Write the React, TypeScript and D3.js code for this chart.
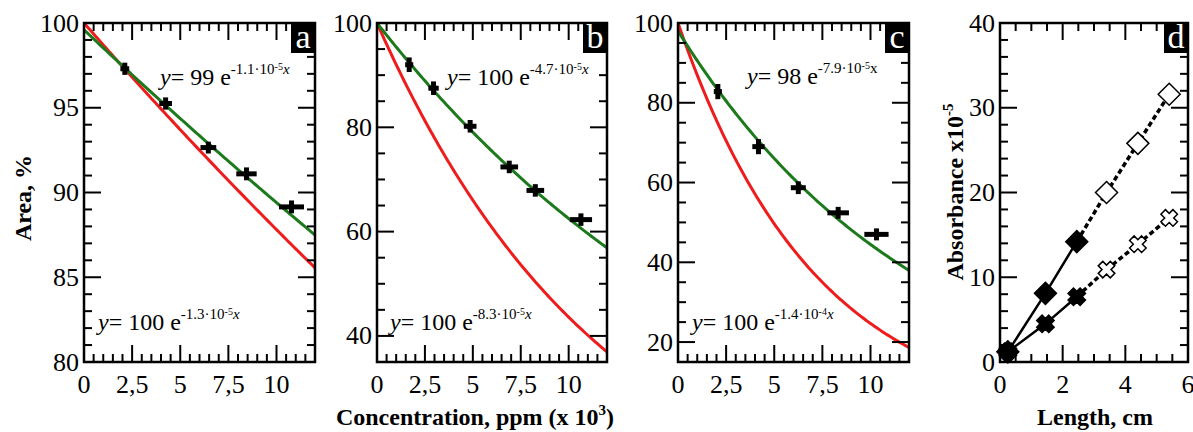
import React from "react";
import * as d3 from "d3";

// ---------- DATA ----------
// Panel a
const concA = [2.12, 4.24, 6.46, 8.44, 10.78];
const areaA = [97.3, 95.25, 92.65, 91.1, 89.15];
const xErrA = [0.1, 0.2, 0.28, 0.4, 0.52];
const yErrA = [0.36, 0.36, 0.35, 0.38, 0.38];
// Panel b
const concB = [1.68, 2.95, 4.86, 6.9, 8.26, 10.64];
const areaB = [92.0, 87.5, 80.2, 72.4, 67.9, 62.3];
const xErrB = [0.08, 0.14, 0.2, 0.33, 0.33, 0.45];
const yErrB = [1.4, 1.3, 1.2, 1.2, 1.2, 1.2];
// Panel c
const concC = [2.07, 4.18, 6.25, 8.32, 10.31];
const areaC = [82.8, 69.0, 58.7, 52.4, 47.0];
const xErrC = [0.08, 0.19, 0.26, 0.43, 0.5];
const yErrC = [1.9, 1.9, 1.6, 1.5, 1.5];

// Fitted exponentials: y = A * exp(-k * ppm)
const fitGreen = [
  { A: 99.6, k: 1.08e-5 },
  { A: 100, k: 4.7e-5 },
  { A: 98, k: 7.9e-5 },
];
const fitRed = [
  { A: 100, k: 1.3e-5 },
  { A: 100, k: 8.3e-5 },
  { A: 100, k: 1.4e-4 },
];

// Equation labels
const eqTop = [
  { coef: "99", mant: "-1.1·10", pow: "-5", italX: true },
  { coef: "100", mant: "-4.7·10", pow: "-5", italX: true },
  { coef: "98", mant: "-7.9·10", pow: "-5", italX: false },
];
const eqBottom = [
  { coef: "100", mant: "-1.3·10", pow: "-5", italX: true },
  { coef: "100", mant: "-8.3·10", pow: "-5", italX: true },
  { coef: "100", mant: "-1.4·10", pow: "-4", italX: true },
];

// Panel d
const lengthD = [0.25, 1.45, 2.45, 3.4, 4.4, 5.4];
const absDiamond = [1.2, 8.1, 14.2, 20.0, 25.8, 31.6];
const absCross = [1.2, 4.5, 7.7, 10.9, 13.9, 17.0];
const filledCount = 3;

// Tick labels
const concTickLabels = ["0", "2,5", "5", "7,5", "10"];
const concTickValues = [0, 2.5, 5, 7.5, 10];
const yTicksA = [80, 85, 90, 95, 100];
const yTicksB = [40, 60, 80, 100];
const yTicksC = [20, 40, 60, 80, 100];
const yTicksD = [0, 10, 20, 30, 40];
const xTicksD = [0, 2, 4, 6];
const panelLetters = ["a", "b", "c", "d"];

// ---------- LAYOUT ----------
const W = 1193;
const H = 432;
const TOP = 23;
const BOTTOM = 362;
const panels = [
  { x0: 84, x1: 315, ydom: [80, 100], yMinor: 1, yTicks: yTicksA, eqT: [160, 85], eqB: [98, 330] },
  { x0: 377, x1: 607, ydom: [35, 100], yMinor: 5, yTicks: yTicksB, eqT: [447, 85], eqB: [390, 330] },
  { x0: 678, x1: 909, ydom: [15, 100], yMinor: 5, yTicks: yTicksC, eqT: [747, 84], eqB: [692, 330] },
];
const panelD = { x0: 1000, x1: 1188 };

const FONT = "Liberation Serif";
const GREEN = "#1c7a1c";
const RED = "#ee1c1c";
const MAJ = 17;
const MIN = 8;

function Frame({ xs, ys, xMinorVals, xMajorVals, yMinorVals, yMajorVals, xLabels, yLabels, letter }: any) {
  const [x0, x1] = xs.range();
  const [yb, yt] = ys.range();
  const lines: any[] = [];
  xMinorVals.forEach((v: number, i: number) => {
    const x = xs(v);
    lines.push(<line key={"xb" + i} x1={x} x2={x} y1={yb} y2={yb - MIN} />);
    lines.push(<line key={"xt" + i} x1={x} x2={x} y1={yt} y2={yt + MIN} />);
  });
  xMajorVals.forEach((v: number, i: number) => {
    const x = xs(v);
    lines.push(<line key={"XB" + i} x1={x} x2={x} y1={yb} y2={yb - MAJ} />);
    lines.push(<line key={"XT" + i} x1={x} x2={x} y1={yt} y2={yt + MAJ} />);
  });
  yMinorVals.forEach((v: number, i: number) => {
    const y = ys(v);
    lines.push(<line key={"yl" + i} x1={x0} x2={x0 + MIN} y1={y} y2={y} />);
    lines.push(<line key={"yr" + i} x1={x1} x2={x1 - MIN} y1={y} y2={y} />);
  });
  yMajorVals.forEach((v: number, i: number) => {
    const y = ys(v);
    lines.push(<line key={"YL" + i} x1={x0} x2={x0 + MAJ} y1={y} y2={y} />);
    lines.push(<line key={"YR" + i} x1={x1} x2={x1 - MAJ} y1={y} y2={y} />);
  });
  return (
    <g>
      <g stroke="#000" strokeWidth={2}>{lines}</g>
      <rect x={x0} y={yt} width={x1 - x0} height={yb - yt} fill="none" stroke="#000" strokeWidth={2.5} />
      <g style={{ fontFamily: FONT }} fontSize={26} fill="#000">
        {xLabels.map((l: any, i: number) => (
          <text key={"xl" + i} x={xs(l.v)} y={yb + 31} textAnchor="middle">{l.t}</text>
        ))}
        {yLabels.map((l: any, i: number) => (
          <text key={"yl" + i} x={x0 - 5} y={ys(l.v) + 8.5} textAnchor="end">{l.t}</text>
        ))}
      </g>
      <rect x={x1 - 24} y={yt} width={24} height={30} fill="#000" />
      <text x={x1 - 12} y={yt + 25} textAnchor="middle" fill="#fff" style={{ fontFamily: FONT }} fontSize={34}>{letter}</text>
    </g>
  );
}

function Eq({ x, y, e }: any) {
  return (
    <text x={x} y={y} style={{ fontFamily: FONT }} fontSize={24} fill="#000">
      <tspan fontStyle="italic">y</tspan>
      <tspan>{`= ${e.coef} e`}</tspan>
      <tspan fontSize={15} dy={-11}>{e.mant}</tspan>
      <tspan fontSize={10} dy={-4}>{e.pow}</tspan>
      <tspan fontSize={15} dy={4} fontStyle={e.italX ? "italic" : "normal"}>x</tspan>
    </text>
  );
}

function diamondPath(r: number) {
  return `M0,${-r}L${r},0L0,${r}L${-r},0Z`;
}
function crossPath(r: number, t: number) {
  return `M${-t},${-r}L${t},${-r}L${t},${-t}L${r},${-t}L${r},${t}L${t},${t}L${t},${r}L${-t},${r}L${-t},${t}L${-r},${t}L${-r},${-t}L${-t},${-t}Z`;
}

function ConcPanel({ idx, conc, area, xErr, yErr }: any) {
  const p = panels[idx];
  const xs = d3.scaleLinear().domain([0, 12]).range([p.x0, p.x1]);
  const ys = d3.scaleLinear().domain(p.ydom).range([BOTTOM, TOP]);
  const samples = d3.range(0, 12.0001, 0.1);
  const line = d3.line<number>().x((v) => xs(v));
  const g = fitGreen[idx];
  const r = fitRed[idx];
  const greenPath = line.y((v) => ys(g.A * Math.exp(-g.k * v * 1000)))(samples);
  const redPath = line.y((v) => ys(r.A * Math.exp(-r.k * v * 1000)))(samples);
  const clipId = "clip" + idx;
  const yMinorVals = d3.range(p.ydom[0], p.ydom[1] + 0.001, p.yMinor).filter((v) => !p.yTicks.includes(v));
  const xMinorVals = d3.range(0, 12.001, 0.5).filter((v) => !concTickValues.includes(v));
  return (
    <g>
      <defs>
        <clipPath id={clipId}>
          <rect x={p.x0} y={TOP} width={p.x1 - p.x0} height={BOTTOM - TOP} />
        </clipPath>
      </defs>
      <g clipPath={`url(#${clipId})`} fill="none" strokeWidth={3}>
        <path d={redPath!} stroke={RED} />
        <path d={greenPath!} stroke={GREEN} />
      </g>
      <g stroke="#000" strokeWidth={5}>
        {conc.map((c: number, i: number) => (
          <g key={i}>
            <line x1={xs(c)} x2={xs(c)} y1={ys(area[i] - yErr[i])} y2={ys(area[i] + yErr[i])} />
            <line x1={xs(c - xErr[i]) - 2.5} x2={xs(c + xErr[i]) + 2.5} y1={ys(area[i])} y2={ys(area[i])} />
          </g>
        ))}
      </g>
      <Frame
        xs={xs}
        ys={ys}
        xMinorVals={xMinorVals}
        xMajorVals={concTickValues}
        yMinorVals={yMinorVals}
        yMajorVals={p.yTicks}
        xLabels={concTickValues.map((v, i) => ({ v, t: concTickLabels[i] }))}
        yLabels={p.yTicks.map((v) => ({ v, t: String(v) }))}
        letter={panelLetters[idx]}
      />
      <Eq x={p.eqT[0]} y={p.eqT[1]} e={eqTop[idx]} />
      <Eq x={p.eqB[0]} y={p.eqB[1]} e={eqBottom[idx]} />
    </g>
  );
}

function PanelD() {
  const xs = d3.scaleLinear().domain([0, 6]).range([panelD.x0, panelD.x1]);
  const ys = d3.scaleLinear().domain([0, 40]).range([BOTTOM, TOP]);
  const line = d3.line<number>().x((i) => xs(lengthD[i]));
  const idxSolid = d3.range(0, filledCount);
  const idxDash = d3.range(filledCount - 1, lengthD.length);
  const dPathSolid = line.y((i) => ys(absDiamond[i]))(idxSolid);
  const dPathDash = line.y((i) => ys(absDiamond[i]))(idxDash);
  const cPathSolid = line.y((i) => ys(absCross[i]))(idxSolid);
  const cPathDash = line.y((i) => ys(absCross[i]))(idxDash);
  const yMinorVals = d3.range(0, 40.001, 2).filter((v) => !yTicksD.includes(v));
  const xMinorVals = d3.range(0, 6.001, 0.5).filter((v) => !xTicksD.includes(v));
  return (
    <g>
      <g fill="none" stroke="#000">
        <path d={dPathSolid!} strokeWidth={2.5} />
        <path d={cPathSolid!} strokeWidth={2.5} />
        <path d={dPathDash!} strokeWidth={3.5} strokeDasharray="5,3" />
        <path d={cPathDash!} strokeWidth={3.5} strokeDasharray="5,3" />
      </g>
      {lengthD.map((l, i) => {
        const filled = i < filledCount;
        return (
          <g key={"m" + i}>
            <path
              d={diamondPath(11)}
              transform={`translate(${xs(l)},${ys(absDiamond[i])})`}
              fill={filled ? "#000" : "#fff"}
              stroke="#000"
              strokeWidth={1.5}
            />
            <path
              d={crossPath(8.5, filled ? 3.8 : 3.2)}
              transform={`translate(${xs(l)},${ys(absCross[i])}) rotate(45)`}
              fill={filled ? "#000" : "#fff"}
              stroke="#000"
              strokeWidth={1.5}
            />
          </g>
        );
      })}
      <Frame
        xs={xs}
        ys={ys}
        xMinorVals={xMinorVals}
        xMajorVals={xTicksD}
        yMinorVals={yMinorVals}
        yMajorVals={yTicksD}
        xLabels={xTicksD.map((v) => ({ v, t: String(v) }))}
        yLabels={yTicksD.map((v) => ({ v, t: String(v) }))}
        letter={panelLetters[3]}
      />
    </g>
  );
}

export default function App() {
  return (
    <svg
      width={W}
      height={H}
      style={{ position: "absolute", left: 0, top: 0, background: "#fff" }}
      xmlns="http://www.w3.org/2000/svg"
    >
      <rect width={W} height={H} fill="#fff" />
      <ConcPanel idx={0} conc={concA} area={areaA} xErr={xErrA} yErr={yErrA} />
      <ConcPanel idx={1} conc={concB} area={areaB} xErr={xErrB} yErr={yErrB} />
      <ConcPanel idx={2} conc={concC} area={areaC} xErr={xErrC} yErr={yErrC} />
      <PanelD />
      <g style={{ fontFamily: FONT }} fontSize={24} fontWeight="bold" fill="#000">
        <text transform="translate(31,198) rotate(-90)" textAnchor="middle">Area, %</text>
        <text x={475} y={425} textAnchor="middle">
          Concentration, ppm (x 10<tspan fontSize={15} dy={-10}>3</tspan><tspan dy={10}>)</tspan>
        </text>
        <text transform="translate(963,192) rotate(-90)" textAnchor="middle">
          Absorbance x10<tspan fontSize={15} dy={-10}>-5</tspan>
        </text>
        <text x={1095} y={425} textAnchor="middle">Length, cm</text>
      </g>
    </svg>
  );
}
